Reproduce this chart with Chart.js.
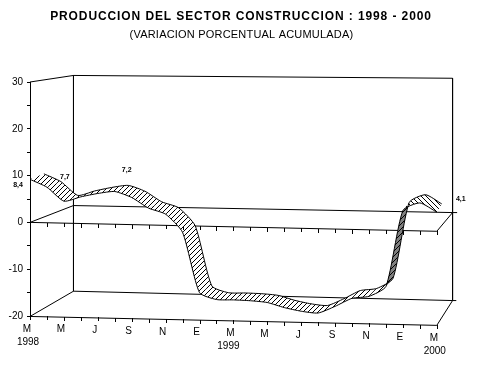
<!DOCTYPE html>
<html>
<head>
<meta charset="utf-8">
<style>
  html, body { margin: 0; padding: 0; background: #fff; }
  #wrap { position: relative; width: 479px; height: 379px; }
</style>
<script src="https://cdn.jsdelivr.net/npm/chart.js@4"></script>
</head>
<body>
<div id="wrap"><canvas id="cv" width="479" height="379"></canvas></div>
<script>
// ── DATA ──────────────────────────────────
const titleText = 'PRODUCCION DEL SECTOR CONSTRUCCION : 1998 - 2000';
const subText   = '(VARIACION PORCENTUAL ACUMULADA)';

// one point per month, Mar 1998 .. Mar 2000
const values = [
  9.2, 7.6, 4.7, 5.7, 6.5, 7.0, 5.8, 3.6, 2.4, -1.4, -14.2, -15.6, -15.6,
  -15.7, -16.0, -17.0, -17.7, -18.0, -16.5, -14.7, -14.2, -12.0, 4.3, 6.0, 4.1
];
// every second month gets a label
const monthLabels = ['M', 'M', 'J', 'S', 'N', 'E', 'M', 'M', 'J', 'S', 'N', 'E', 'M'];
const yearLabels  = [[0, '1998', -2], [12, '1999', -5], [24, '2000', -2]];
const yTicks      = [-20, -15, -10, -5, 0, 5, 10, 15, 20, 25, 30];
const noteIndex   = [0, 2, 6, 24];
const noteText    = ['8,4', '7,7', '7,2', '4,1'];

// ── 3D LOOK ───────────────────────────────
const TILT = 0.08;                        // floor drop per month, in axis units
const tilted = (m, v) => v - TILT * m;
const depthX = m => 0.82 - 0.53 * (m / 24) * (m / 24); // ribbon depth, months
const depthY = m => 1.18 + 0.6 * m / 24;  // ribbon depth, axis units

const frontEdge = values.map((v, m) => ({ x: m, y: tilted(m, v) }));
const backEdge  = values.map((v, m) => ({ x: m + depthX(m), y: tilted(m, v) + depthY(m) }));

const gap = { x: NaN, y: NaN };
const boxLines = [
  { x: 0, y: 30 }, { x: 2.565, y: 31.4 }, { x: 24.93, y: 30.8 }, { x: 24.93, y: -16.7 }, { x: 25.15, y: -16.7 }, gap,
  { x: 2.565, y: 31.4 }, { x: 2.565, y: -14.7 }, { x: 24.93, y: -16.7 }, { x: 24, y: -22 }, { x: 0, y: -20.1 }, { x: 2.565, y: -14.7 }, gap,
  { x: 0, y: 0 }, { x: 2.565, y: 3.6 }, { x: 24.93, y: 2.1 }, { x: 24, y: -1.9 }, { x: 0, y: 0 }, gap,
  { x: 24.93, y: 2.1 }, { x: 25.2, y: 2.1 }
];

// ── PATTERNS ──────────────────────────────
function hatch(bg, back) {
  const c = document.createElement('canvas');
  c.width = c.height = 5;
  const g = c.getContext('2d');
  g.fillStyle = bg;
  g.fillRect(0, 0, 5, 5);
  g.fillStyle = '#000';
  for (let i = 0; i < 5; i++) g.fillRect(i, back ? i : 4 - i, 1, 1);
  return g.createPattern(c, 'repeat');
}

// ── RIBBON + LABELS PLUGIN ────────────────
const ribbon = {
  id: 'ribbon',
  beforeDatasetDraw(chart, args) {
    if (args.index !== 1) return;
    const ctx = chart.ctx;
    const f = chart.getDatasetMeta(0);
    const b = chart.getDatasetMeta(1);
    f.dataset.updateControlPoints(chart.chartArea);
    b.dataset.updateControlPoints(chart.chartArea);
    const normal = hatch('#fff', false);
    const steep  = hatch('#808080', false);
    const last   = hatch('#fff', true);
    for (let i = 0; i < f.data.length - 1; i++) {
      const p0 = f.data[i], p1 = f.data[i + 1], q0 = b.data[i], q1 = b.data[i + 1];
      ctx.save();
      ctx.beginPath();
      ctx.moveTo(p0.x, p0.y);
      ctx.bezierCurveTo(p0.cp2x, p0.cp2y, p1.cp1x, p1.cp1y, p1.x, p1.y);
      ctx.lineTo(q1.x, q1.y);
      ctx.bezierCurveTo(q1.cp1x, q1.cp1y, q0.cp2x, q0.cp2y, q0.x, q0.y);
      ctx.closePath();
      ctx.fillStyle = i === 21 ? steep : i >= 22 ? last : normal;
      ctx.fill();
      ctx.restore();
    }
  },
  afterDraw(chart) {
    const ctx = chart.ctx;
    const sx = chart.scales.x, sy = chart.scales.y;
    ctx.save();
    ctx.strokeStyle = '#000';
    ctx.lineWidth = 1;
    // month ticks on the floor and on the zero line
    for (let m = 0; m < values.length; m++) {
      const x = Math.round(sx.getPixelForValue(m)) + 0.5;
      [-20, 0].forEach(base => {
        const y = Math.round(sy.getPixelForValue(tilted(m, base)));
        ctx.beginPath();
        ctx.moveTo(x, y);
        ctx.lineTo(x, y + 4);
        ctx.stroke();
      });
    }
    ctx.fillStyle = '#000';
    ctx.textAlign = 'center';
    ctx.textBaseline = 'middle';

    // titles
    ctx.font = 'bold 12px "Liberation Sans"';
    ctx.letterSpacing = '0.9px';
    ctx.fillText(titleText, 241, 17);
    ctx.font = '11px "Liberation Sans"';
    ctx.letterSpacing = '0.2px';
    ctx.fillText(subText, 241.5, 35);
    ctx.letterSpacing = '0px';

    ctx.font = '10px "Liberation Sans"';
    monthLabels.forEach((t, i) => {
      const m = i * 2;
      ctx.fillText(t, sx.getPixelForValue(m) - 3, sy.getPixelForValue(tilted(m, -20)) + 13);
    });
    yearLabels.forEach(([m, t, dx]) => {
      ctx.fillText(t, sx.getPixelForValue(m) + dx, sy.getPixelForValue(tilted(m, -20)) + 26);
    });
    // value notes
    ctx.font = 'bold 7px "Liberation Sans"';
    const noteOffset = [[-12, 6], [1, -24], [-5, -27], [24, -13]];
    noteIndex.forEach((m, i) => {
      ctx.fillText(noteText[i],
        sx.getPixelForValue(m) + noteOffset[i][0],
        sy.getPixelForValue(frontEdge[m].y) + noteOffset[i][1]);
    });
    ctx.restore();
  }
};

// ── CHART ─────────────────────────────────
const edgeStyle = {
  borderColor: '#000', borderWidth: 1, pointRadius: 0,
  tension: 0.2, clip: false, fill: false
};

new Chart(document.getElementById('cv'), {
  type: 'line',
  data: {
    datasets: [
      { label: 'front', data: frontEdge, ...edgeStyle },
      { label: 'back', data: backEdge, ...edgeStyle },
      { label: 'box', data: boxLines, borderColor: '#000', borderWidth: 1, pointRadius: 0, clip: false, fill: false, spanGaps: false }
    ]
  },
  options: {
    responsive: false,
    animation: false,
    layout: { padding: { left: 0, right: 8.3, bottom: 63, top: 82 } },
    plugins: {
      legend: { display: false },
      tooltip: { enabled: false }
    },
    scales: {
      x: { type: 'linear', display: false, min: 0, max: 26 },
      y: {
        type: 'linear', min: -20, max: 30,
        afterFit(s) { s.width = 30; },
        afterBuildTicks(s) { s.ticks = yTicks.map(v => ({ value: v })); },
        grid: { drawOnChartArea: false, tickLength: 3, tickColor: '#000' },
        border: { display: true, color: '#000' },
        ticks: {
          autoSkip: false, color: '#000', padding: 4,
          font: { family: '"Liberation Sans"', size: 10 },
          callback: v => (v % 10 === 0 ? String(v) : '')
        }
      }
    }
  },
  plugins: [ribbon]
});
</script>
</body>
</html>
